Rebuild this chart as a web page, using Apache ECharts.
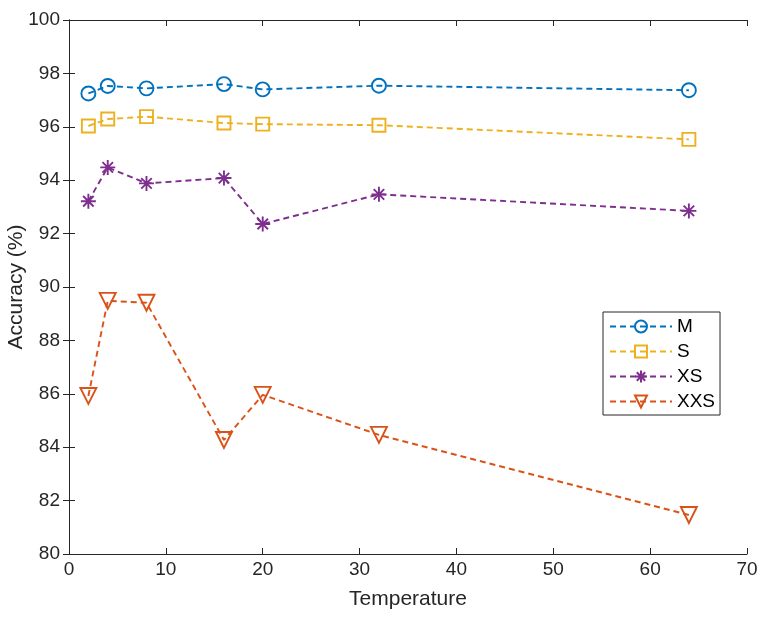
<!DOCTYPE html>
<html lang="en">
<head>
    <meta charset="UTF-8">
    <title>Accuracy vs Temperature</title>
    <script src="https://cdn.jsdelivr.net/npm/echarts@6/dist/echarts.min.js"></script>
    <style>
        body { margin: 0; background: #fff; }
    </style>
</head>
<body>
<div id="main" style="width: 763px;height:624px;"></div>

<script>
    // data
    var temps = [2, 4, 8, 16, 20, 32, 64];
    var accM   = [97.25, 97.53, 97.44, 97.60, 97.40, 97.54, 97.37];
    var accS   = [96.03, 96.29, 96.38, 96.14, 96.10, 96.06, 95.53];
    var accXS  = [93.21, 94.48, 93.88, 94.08, 92.36, 93.47, 92.85];
    var accXXS = [85.92, 89.48, 89.41, 84.27, 85.96, 84.46, 81.46];
    var seriesNames = ['M', 'S', 'XS', 'XXS'];

    var textColor = '#262626';
    var star = 'path://M0,-10L0,10M-10,0L10,0M-7,-7L7,7M-7,7L7,-7';

    function pairs(ys) {
        return temps.map(function (t, i) { return [t, ys[i]]; });
    }

    function makeSeries(name, ys, color, symbol, size, rotate) {
        return {
            name: name,
            type: 'line',
            data: pairs(ys),
            symbol: symbol,
            symbolSize: size,
            symbolRotate: rotate || 0,
            showAllSymbol: true,
            lineStyle: { color: color, width: 1.9, type: [6, 4] },
            itemStyle: { color: 'rgba(255,255,255,0)', borderColor: color, borderWidth: 1.9 },
            emphasis: { disabled: true },
            animation: false
        };
    }

    var myChart = echarts.init(document.getElementById('main'));

    var axisLine = { show: true, lineStyle: { color: textColor, width: 1 } };

    var option = {
        backgroundColor: '#fff',
        textStyle: { fontFamily: 'Liberation Sans, Arial, sans-serif' },
        grid: { left: 69, right: 16, top: 20, bottom: 70, outerBoundsMode: 'none', containLabel: false },
        legend: {
            orient: 'vertical',
            left: 603,
            top: 312,
            data: seriesNames,
            borderColor: textColor,
            borderWidth: 1,
            borderRadius: 0,
            padding: [5, 5, 4, 6],
            itemWidth: 62,
            itemHeight: 15,
            itemGap: 6,
            textStyle: { fontSize: 19, color: '#000' }
        },
        xAxis: [{
            type: 'value',
            min: 0, max: 70, interval: 10,
            name: 'Temperature',
            nameLocation: 'middle',
            nameGap: 35,
            nameMoveOverlap: false,
            nameTextStyle: { fontSize: 21, color: textColor },
            axisLine: axisLine,
            axisTick: { inside: true, length: 6, lineStyle: { color: textColor } },
            axisLabel: { fontSize: 19, color: textColor, margin: 6 },
            splitLine: { show: false }
        }, {
            type: 'value', position: 'top',
            min: 0, max: 70, interval: 10,
            axisLine: axisLine,
            axisTick: { inside: true, length: 6, lineStyle: { color: textColor } },
            axisLabel: { show: false },
            splitLine: { show: false }
        }],
        yAxis: [{
            type: 'value',
            min: 80, max: 100, interval: 2,
            name: 'Accuracy (%)',
            nameLocation: 'middle',
            nameGap: 42,
            nameMoveOverlap: false,
            nameTextStyle: { fontSize: 21, color: textColor },
            axisLine: axisLine,
            axisTick: { inside: true, length: 6, lineStyle: { color: textColor } },
            axisLabel: { fontSize: 19, color: textColor, margin: 9 },
            splitLine: { show: false }
        }, {
            type: 'value', position: 'right',
            min: 80, max: 100, interval: 2,
            axisLine: axisLine,
            axisTick: { inside: true, length: 6, lineStyle: { color: textColor } },
            axisLabel: { show: false },
            splitLine: { show: false }
        }],
        series: [
            makeSeries('M', accM, '#0072BD', 'circle', 14),
            makeSeries('S', accS, '#EDB120', 'rect', 13),
            makeSeries('XS', accXS, '#7E2F8E', star, 15),
            makeSeries('XXS', accXXS, '#D95319', 'triangle', 16, 180)
        ]
    };

    myChart.setOption(option);
</script>
</body>
</html>
